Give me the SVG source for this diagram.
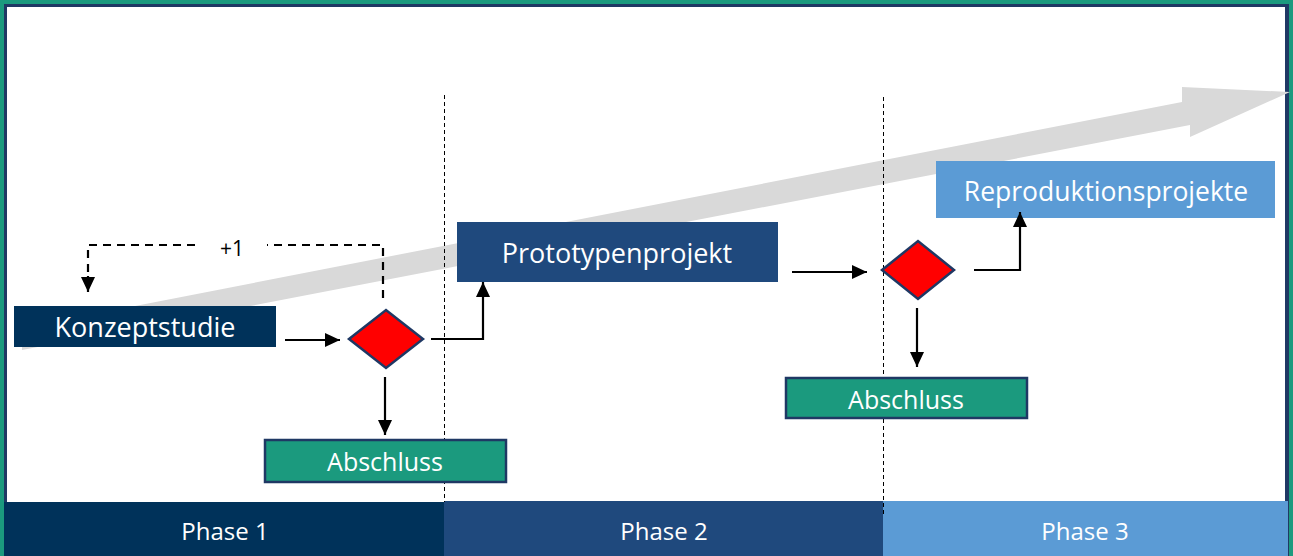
<svg xmlns="http://www.w3.org/2000/svg" width="1293" height="556" viewBox="0 0 1293 556">
<style>
.lbl{font-family:"Open Sans","Liberation Sans",sans-serif;fill:#fff;text-anchor:middle}
.note{font-family:"Open Sans","Liberation Sans",sans-serif;fill:#000;text-anchor:middle;font-size:21px}
.conn{fill:none;stroke:#000;stroke-width:2.2}
.dash{fill:none;stroke:#000;stroke-width:2.2;stroke-dasharray:8 6}
.vdash{fill:none;stroke:#000;stroke-width:1;stroke-dasharray:4 3}
.dia{fill:#FF0000;stroke:#1F3864;stroke-width:2.5}
.absch{fill:#1B9A7E;stroke:#1F3864;stroke-width:2.5}
</style>
<defs>
<marker id="ah" viewBox="0 0 15 14" refX="15" refY="7" markerWidth="15" markerHeight="14" markerUnits="userSpaceOnUse" orient="auto">
<path d="M0,0 L15,7 L0,14 Z" fill="#000"/>
</marker>
</defs>
<g id="frame">
<rect x="0" y="0" width="1293" height="556" fill="#1B9A7E"/>
<rect x="4" y="4" width="1285" height="552" fill="#1F3864"/>
<rect x="7" y="7" width="1278" height="549" fill="#FFFFFF"/>
</g>
<g id="bigarrow">
<polygon points="22,328 1182,102 1182,87 1290,92 1190,137 1190,125 22,350" fill="#D9D9D9"/>
</g>
<g id="phases">
<g id="phase1"><rect x="4" y="502" width="440" height="54" fill="#00325A"/><text class="lbl" x="225" y="540" font-size="24">Phase 1</text></g>
<g id="phase2"><rect x="444" y="501" width="439" height="55" fill="#1F497D"/><text class="lbl" x="664" y="540" font-size="24">Phase 2</text></g>
<g id="phase3"><rect x="883" y="501" width="405" height="55" fill="#5B9BD5"/><text class="lbl" x="1085" y="540" font-size="24">Phase 3</text></g>
</g>
<g id="dividers">
<line class="vdash" x1="444.5" y1="95" x2="444.5" y2="502"/>
<line class="vdash" x1="883.5" y1="97" x2="883.5" y2="515"/>
</g>
<g id="konzeptstudie"><rect x="14" y="306" width="262" height="41" fill="#00325A"/><text class="lbl" x="145" y="337" font-size="27">Konzeptstudie</text></g>
<g id="entscheidung1"><polygon class="dia" points="349,339 386,310 423,339 386,368"/></g>
<g id="abschluss1"><rect class="absch" x="265" y="440" width="241" height="42"/><text class="lbl" x="385" y="471" font-size="25">Abschluss</text></g>
<g id="prototypenprojekt"><rect x="457" y="222" width="321" height="60" fill="#1F497D"/><text class="lbl" x="617" y="263" font-size="27">Prototypenprojekt</text></g>
<g id="entscheidung2"><polygon class="dia" points="882,270 918,241 954,270 918,299"/></g>
<g id="abschluss2"><rect class="absch" x="786" y="378" width="241" height="40"/><text class="lbl" x="906" y="409" font-size="25">Abschluss</text></g>
<g id="reproduktionsprojekte"><rect x="936" y="161" width="339" height="57" fill="#5B9BD5"/><text class="lbl" x="1106" y="201" font-size="26.5">Reproduktionsprojekte</text></g>
<g id="connectors">
<line class="conn" x1="285" y1="340" x2="340" y2="340" marker-end="url(#ah)"/>
<polyline class="conn" points="431,339 483,339 483,282" marker-end="url(#ah)"/>
<line class="conn" x1="385" y1="377" x2="385" y2="435" marker-end="url(#ah)"/>
<line class="conn" x1="792" y1="272" x2="867" y2="272" marker-end="url(#ah)"/>
<polyline class="conn" points="974,270 1020,270 1020,212" marker-end="url(#ah)"/>
<line class="conn" x1="917" y1="308" x2="917" y2="367" marker-end="url(#ah)"/>
<polyline class="dash" points="383,298 383,245 267,245"/>
<polyline class="dash" points="195,245 88,245 88,276"/>
<line class="conn" x1="88" y1="276" x2="88" y2="292" marker-end="url(#ah)"/>
<text class="note" x="232" y="256">+1</text>
</g>
</svg>
